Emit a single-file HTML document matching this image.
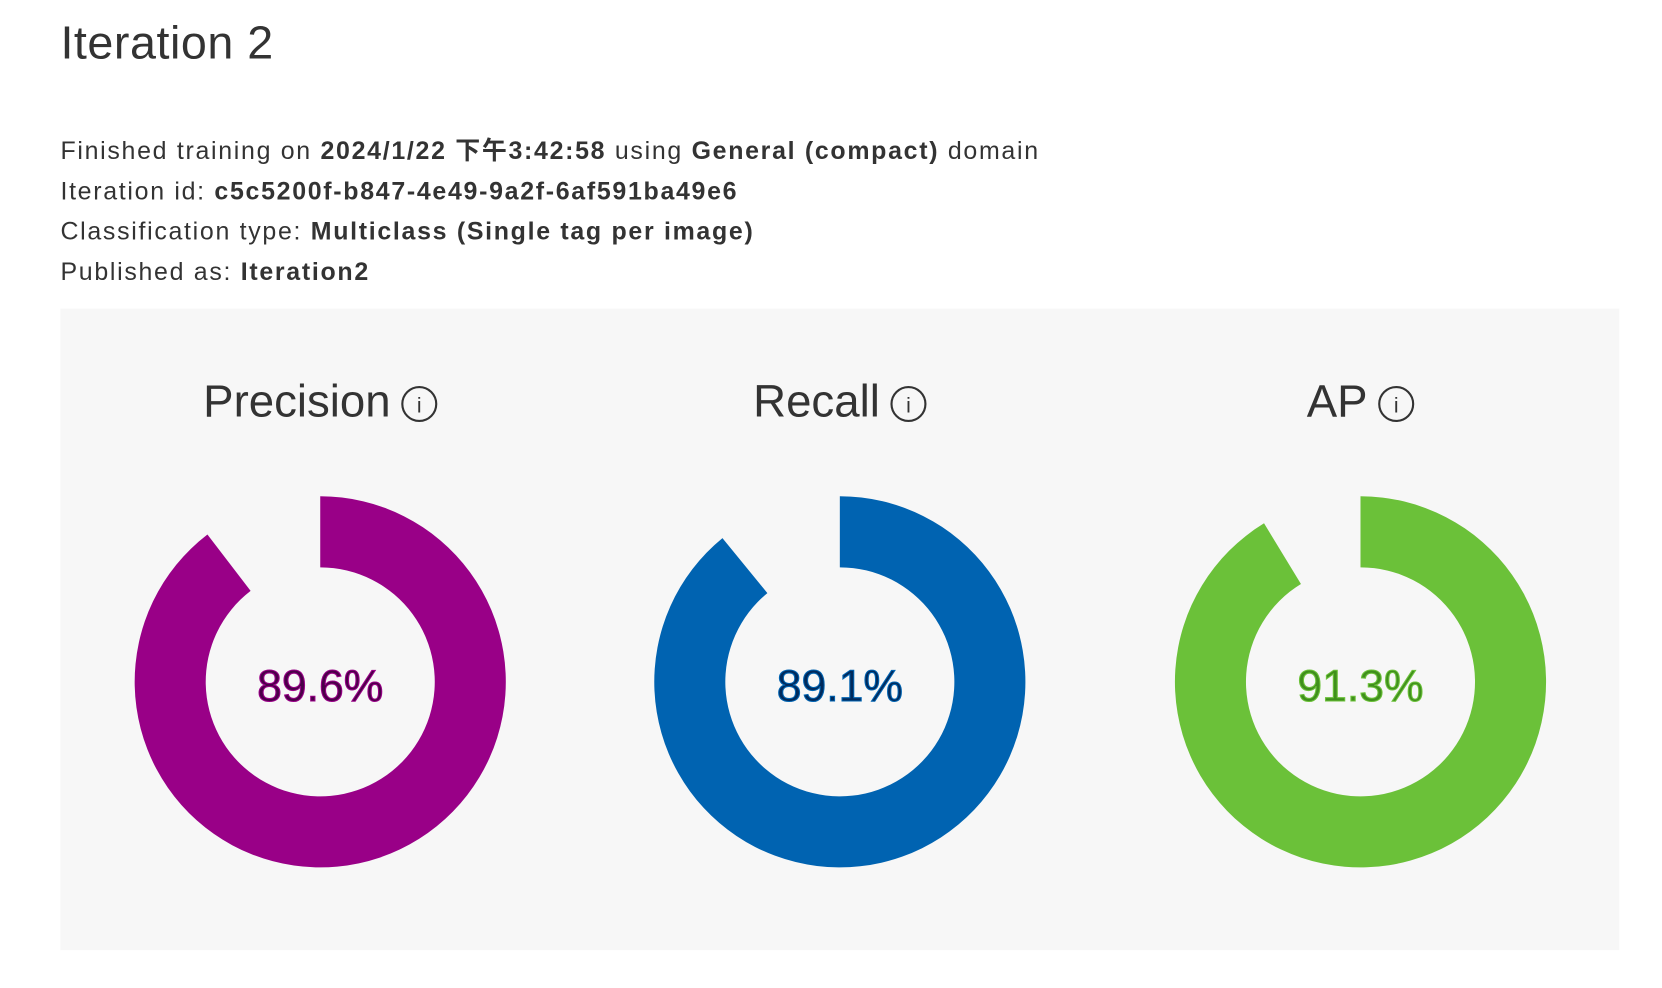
<!DOCTYPE html>
<html><head><meta charset="utf-8">
<style>
html,body{margin:0;padding:0;background:#fff;width:1662px;height:988px;overflow:hidden}
#wrap{position:absolute;left:0;top:0;width:1570px;height:932px;transform:scale(1.0604);transform-origin:0 0;font-family:"Liberation Sans","Noto Sans CJK SC",sans-serif;color:#333}
h1{position:absolute;left:57px;top:15px;margin:0;font-weight:normal;font-size:44px;line-height:52px;color:#333;letter-spacing:0.5px}
.line{position:absolute;left:57px;font-size:23.5px;line-height:30px;height:30px;white-space:nowrap;letter-spacing:1.6px}
.line b{font-weight:bold}
#panel{position:absolute;left:57px;top:291px;width:1470px;height:605px;background:#f7f7f7}
</style></head><body>
<div id="wrap">
<h1>Iteration 2</h1>
<div class="line" style="top:127px">Finished training on <b>2024/1/22 下午3:42:58</b> using <b>General (compact)</b> domain</div>
<div class="line" style="top:165px">Iteration id: <b>c5c5200f-b847-4e49-9a2f-6af591ba49e6</b></div>
<div class="line" style="top:203px">Classification type: <b>Multiclass (Single tag per image)</b></div>
<div class="line" style="top:241px">Published as: <b>Iteration2</b></div>
<div id="panel"></div>
<svg id="chart" width="1570" height="932" style="position:absolute;left:0;top:0"></svg>
</div>
<script>
const metricNames=["Precision","Recall","AP"];
const metricValues=[89.6,89.1,91.3];
const valueLabels=["89.6%","89.1%","91.3%"];
const ringColors=["#990087","#0063b1","#6bc139"];
const textFill=["#4a0048","#002a5c","#3f8f1c"];
const centers=[302,792,1283];
const cy=643,R=175,r=108;
const NS="http://www.w3.org/2000/svg";
const svg=document.getElementById('chart');
function pt(rad,frac,cx){const a=frac*2*Math.PI;return [cx+rad*Math.sin(a),cy-rad*Math.cos(a)];}
function arcPath(v,cx){
  const f=v/100, large=f>0.5?1:0;
  const o0=pt(R,0,cx),o1=pt(R,f,cx),i1=pt(r,f,cx),i0=pt(r,0,cx);
  return `M${o0[0]},${o0[1]} A${R},${R} 0 ${large} 1 ${o1[0]},${o1[1]} L${i1[0]},${i1[1]} A${r},${r} 0 ${large} 0 ${i0[0]},${i0[1]} Z`;
}
metricNames.forEach((n,i)=>{
  const cx=centers[i];
  const g=document.createElementNS(NS,'g');
  
  
  svg.appendChild(g);
  const t=document.createElementNS(NS,'text');
  
  
  t.setAttribute('y',393);
  t.setAttribute('font-size','43');
  t.setAttribute('fill','#333');t.setAttribute('font-family','Liberation Sans, sans-serif');
  t.textContent=n;g.appendChild(t);
  const tw=t.getComputedTextLength();
  const total=tw+44;
  const x0=cx-total/2;
  t.setAttribute('x',x0);
  const ix=x0+tw+27;
  const ic=document.createElementNS(NS,'g');
  
  
  const c=document.createElementNS(NS,'circle');
  c.setAttribute('cx',ix);c.setAttribute('cy',381);c.setAttribute('r',16);
  c.setAttribute('fill','none');c.setAttribute('stroke','#333');c.setAttribute('stroke-width','2');
  ic.appendChild(c);
  const it=document.createElementNS(NS,'text');
  it.setAttribute('x',ix);it.setAttribute('y',389);it.setAttribute('text-anchor','middle');
  it.setAttribute('font-size','20');it.setAttribute('fill','#333');it.setAttribute('font-family','Liberation Sans, sans-serif');
  it.textContent='i';ic.appendChild(it);g.appendChild(ic);
  const p=document.createElementNS(NS,'path');
  
  
  p.setAttribute('d',arcPath(metricValues[i],cx));
  p.setAttribute('fill',ringColors[i]);
  g.appendChild(p);
  const v=document.createElementNS(NS,'text');
  
  
  v.setAttribute('x',cx);v.setAttribute('y',661);v.setAttribute('text-anchor','middle');
  v.setAttribute('font-size','42');v.setAttribute('fill',textFill[i]);
  v.setAttribute('stroke',ringColors[i]);v.setAttribute('stroke-width','1');
  v.setAttribute('font-family','Liberation Sans, sans-serif');
  v.textContent=valueLabels[i];g.appendChild(v);
});
</script>
</body></html>
